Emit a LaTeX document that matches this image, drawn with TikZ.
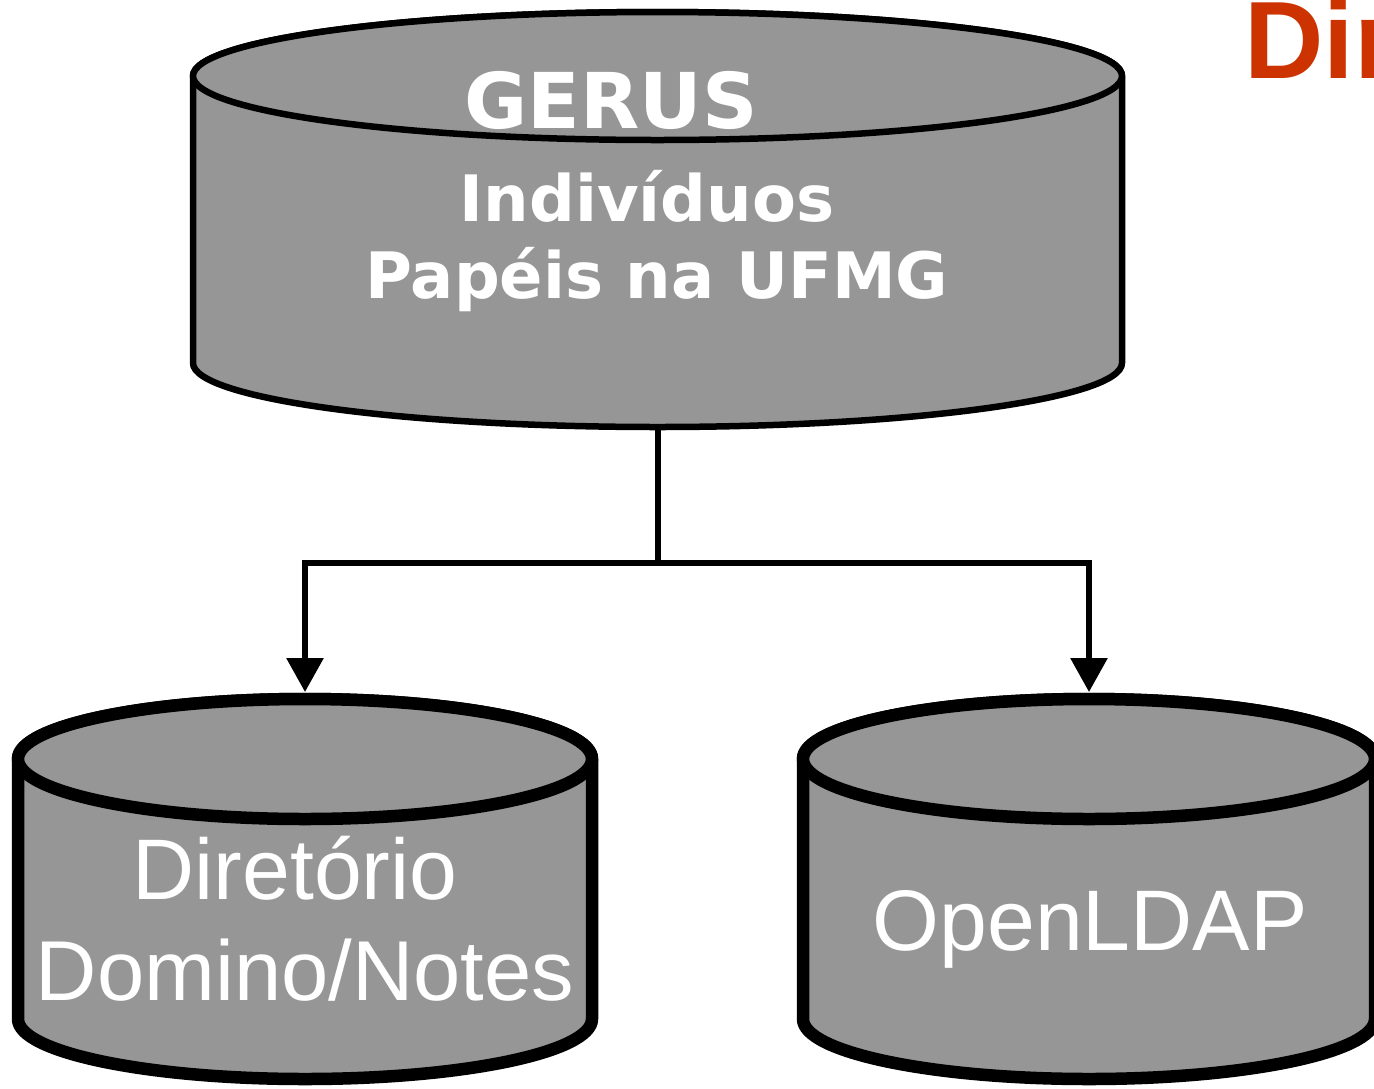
\documentclass[tikz,border=0pt]{standalone}
\usepackage{fontspec}
\setmainfont{Liberation Sans}
\newfontfamily\verd{DejaVu Sans}
\usetikzlibrary{arrows.meta}
\definecolor{cylgray}{RGB}{150,150,150}
\definecolor{titlered}{RGB}{204,51,0}
\tikzset{
  thincyl/.style={draw=black, fill=cylgray, line width=6.5pt, line join=round},
  thickcyl/.style={draw=black, fill=cylgray, line width=12.5pt, line join=round},
  boldlabel/.style={text=white, font=\verd\bfseries, inner sep=0pt, anchor=base},
  plainlabel/.style={text=white, inner sep=0pt, anchor=base},
  link/.style={draw=black, line width=6pt, -{Triangle[length=34pt,width=36pt]}}
}
% cylinder: #1 style, #2 cx, #3 rx, #4 top cy, #5 bottom cy, #6 ry
\newcommand{\mycyl}[6]{%
  \path[#1] (#2-#3,#4) -- (#2-#3,#5) arc[start angle=180, end angle=360, x radius=#3, y radius=-#6]
    -- (#2+#3,#4) arc[start angle=0, end angle=180, x radius=#3, y radius=-#6] -- cycle;
  \path[#1] (#2,#4) ellipse[x radius=#3, y radius=#6];
}
\begin{document}
\begin{tikzpicture}[x=1pt,y=-1pt]
\useasboundingbox (0,0) rectangle (1374,1088);
\fill[white] (0,0) rectangle (1374,1088);

% title fragment
\node[text=titlered, font=\bfseries\fontsize{110}{110}\selectfont, anchor=base west, inner sep=0pt] (title) at (1244,78) {Dir};

% cylinders
\mycyl{thincyl}{657.5}{464.5}{76}{363}{64}
\mycyl{thickcyl}{305}{287}{759}{1019}{60}
\mycyl{thickcyl}{1089}{286}{759}{1019}{60}

% labels
\node[boldlabel, font=\verd\bfseries\fontsize{77}{77}\selectfont] (gerus) at (611,128) {GERUS};
\node[boldlabel, font=\verd\bfseries\fontsize{64}{64}\selectfont] (indiv) at (647,221) {Indivíduos};
\node[boldlabel, font=\verd\bfseries\fontsize{64}{64}\selectfont] (papeis) at (657,298) {Papéis na UFMG};
\node[plainlabel, font=\fontsize{86}{86}\selectfont] (dir) at (295,899) {Diretório};
\node[plainlabel, font=\fontsize{85}{85}\selectfont] (dom) at (305,1000) {Domino/Notes};
\node[plainlabel, font=\fontsize{86}{86}\selectfont] (ldap) at (1090,950) {OpenLDAP};

% connection points
\coordinate (gerusBot) at (657.5,427);
\coordinate (split) at (657.5,563);
\coordinate (dominoTop) at (305,692);
\coordinate (ldapTop) at (1089,692);

\draw[link] (gerusBot) -- (split) -| (dominoTop);
\draw[link] (split) -| (ldapTop);
\end{tikzpicture}
\end{document}
